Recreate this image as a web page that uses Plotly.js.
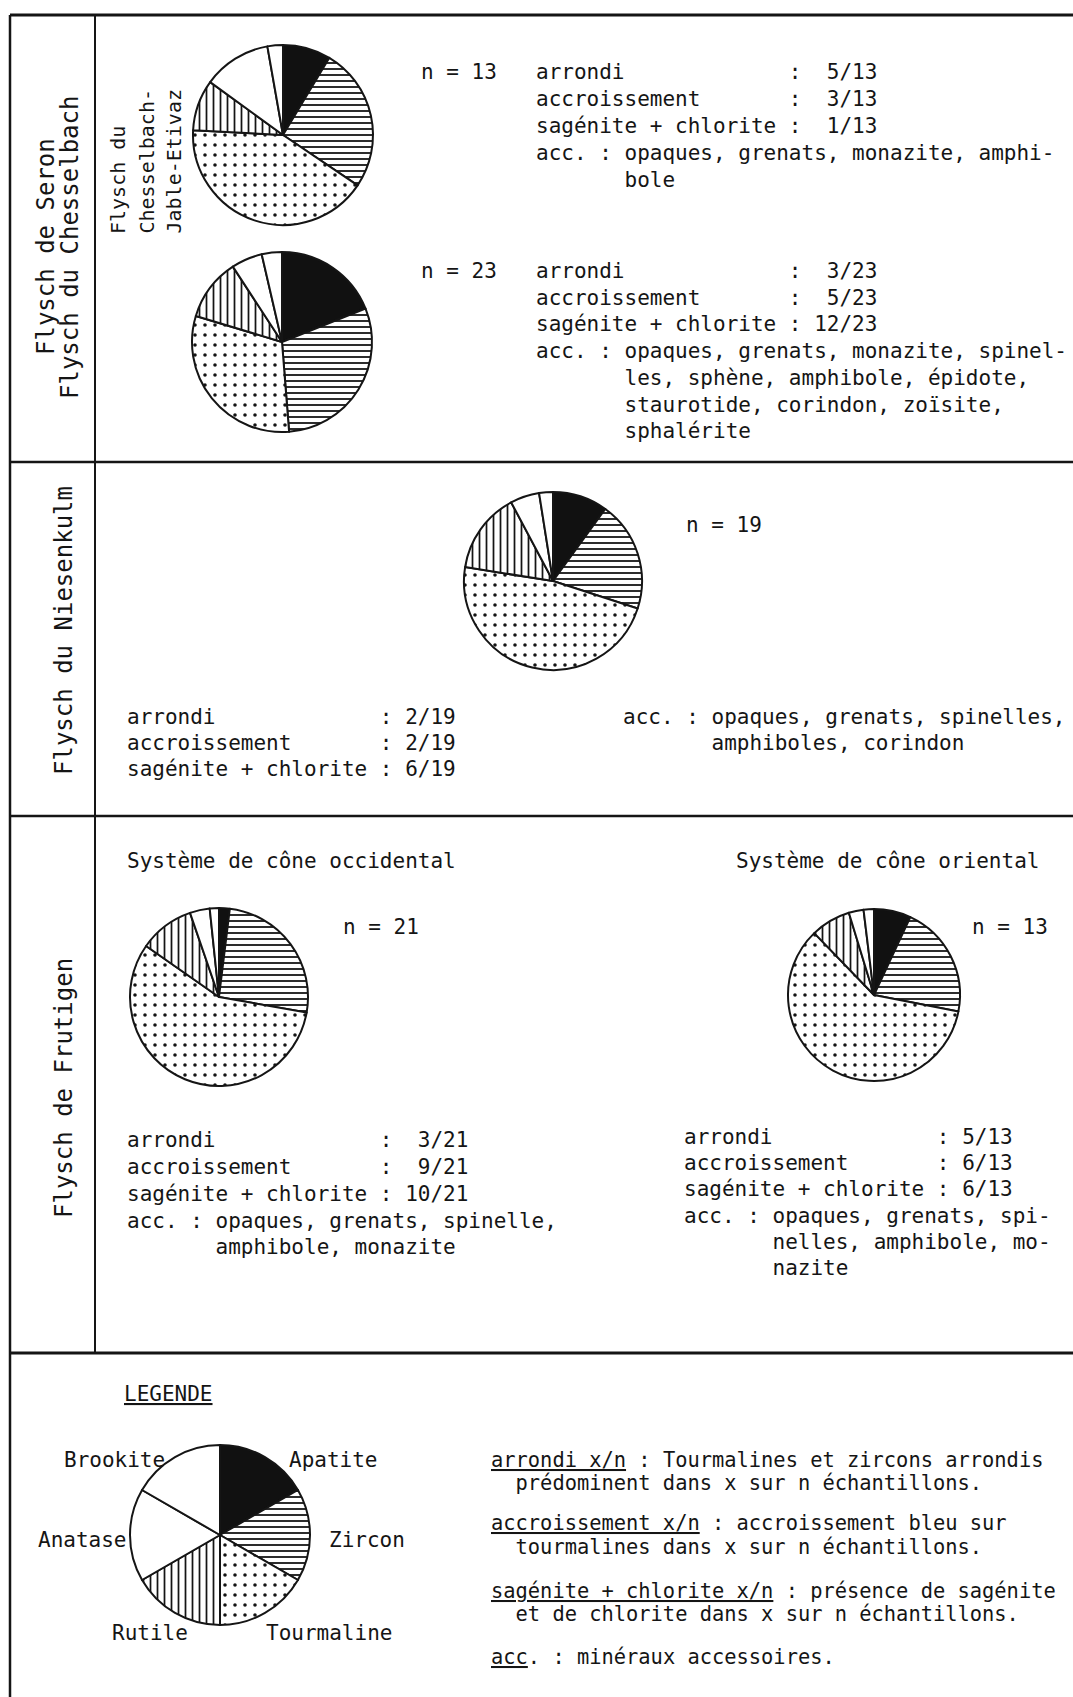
<!DOCTYPE html>
<html><head><meta charset="utf-8">
<script src="https://cdn.plot.ly/plotly-3.0.1.min.js"></script>
<style>html,body{margin:0;padding:0;background:#fff}#chart{width:1073px;height:1697px}</style>
</head><body><div id="chart"></div>
<script>
const W = 1073, H = 1697;

// ---- data ----
const minerals = ['Apatite', 'Zircon', 'Tourmaline', 'Rutile', 'Anatase', 'Brookite'];
// slice sizes (degrees of arc)
const pieJable      = [31, 93, 149, 33, 44, 10];   // Flysch du Chesselbach-Jable-Etivaz, n = 13
const pieChessel    = [68, 107, 111, 40, 20, 13];  // n = 23
const pieNiesen     = [36, 72, 171, 53, 19, 9];    // n = 19
const pieOccidental = [7, 93, 205, 36, 13, 6];     // n = 21
const pieOriental   = [25, 76, 215, 27, 10, 7];    // n = 13
const pieLegend     = [1, 1, 1, 1, 1, 1];

const statLabels = ['arrondi', 'accroissement', 'sagénite + chlorite'];
const jableN = 13, jableCounts = [5, 3, 1];
const chesselN = 23, chesselCounts = [3, 5, 12];
const niesenN = 19, niesenCounts = [2, 2, 6];
const occN = 21, occCounts = [3, 9, 10];
const oriN = 13, oriCounts = [5, 6, 6];

const jableAcc = ['acc. : opaques, grenats, monazite, amphi-', '       bole'];
const chesselAcc = ['acc. : opaques, grenats, monazite, spinel-', '       les, sphène, amphibole, épidote,', '       staurotide, corindon, zoïsite,', '       sphalérite'];
const niesenAcc = ['acc. : opaques, grenats, spinelles,', '       amphiboles, corindon'];
const occAcc = ['acc. : opaques, grenats, spinelle,', '       amphibole, monazite'];
const oriAcc = ['acc. : opaques, grenats, spi-', '       nelles, amphibole, mo-', '       nazite'];

const rowLabels = ['Flysch de Seron', 'Flysch du Chesselbach', 'Flysch du Niesenkulm', 'Flysch de Frutigen'];
const subLabel = ['Flysch du', 'Chesselbach-', 'Jable-Etivaz'];
const coneTitles = ['Système de cône occidental', 'Système de cône oriental'];
const legendTitle = 'LEGENDE';
const legendNotes = [
  '<u>arrondi x/n</u> : Tourmalines et zircons arrondis',
  '  prédominent dans x sur n échantillons.',
  '<u>accroissement x/n</u> : accroissement bleu sur',
  '  tourmalines dans x sur n échantillons.',
  '<u>sagénite + chlorite x/n</u> : présence de sagénite',
  '  et de chlorite dans x sur n échantillons.',
  '<u>acc</u>. : minéraux accessoires.'
];

// ---- styles ----
const INK = '#151515';
const fills = ['#111', 'white', 'white', 'white', 'white', 'white'];
const shapes = ['', '-', '.', '|', '', ''];
const psize = [6, 6, 10, 7, 6, 6];
const psol = [0.3, 0.3, 0.1, 0.25, 0.3, 0.3];

function pie(values, cx, cy, r) {
  return {
    type: 'pie', values: values, labels: minerals, sort: false,
    direction: 'clockwise', rotation: 0, textinfo: 'none', hoverinfo: 'skip',
    showlegend: false,
    domain: {x: [(cx - r) / W, (cx + r) / W], y: [1 - (cy + r) / H, 1 - (cy - r) / H]},
    marker: {colors: fills, line: {color: INK, width: 2},
      pattern: {shape: shapes, fgcolor: INK, bgcolor: 'white', size: psize, solidity: psol, fillmode: 'replace'}}
  };
}

const data = [
  pie(pieJable, 283, 135, 90),
  pie(pieChessel, 282, 342, 90),
  pie(pieNiesen, 553, 581, 89),
  pie(pieOccidental, 219, 997, 89),
  pie(pieOriental, 874, 995, 86),
  pie(pieLegend, 220, 1535, 90)
];

const annotations = [];
function ann(text, x, y, o) {
  annotations.push(Object.assign({
    xref: 'paper', yref: 'paper', x: x / W, y: 1 - y / H,
    text: text.replace(/ /g, '\u00a0'), showarrow: false,
    xanchor: 'left', yanchor: 'middle',
    font: {family: 'DejaVu Sans Mono', size: 21, color: INK}
  }, o || {}));
}
function statLines(counts, n, pad) {
  return statLabels.map((l, i) => l.padEnd(20, ' ') + ': ' + (counts[i] + '/' + n).padStart(pad, ' '));
}
function block(lines, x, y0, step, o) {
  lines.forEach((t, i) => ann(t, x, y0 + i * step, o));
}

// Row 1
ann('n = ' + jableN, 419, 72);
block(statLines(jableCounts, jableN, 5).concat(jableAcc), 534, 72, 27);
ann('n = ' + chesselN, 419, 271);
block(statLines(chesselCounts, chesselN, 5).concat(chesselAcc), 534, 271, 26.7);

// Row 2
ann('n = ' + niesenN, 684, 525);
block(statLines(niesenCounts, niesenN, 4), 125, 717, 26);
block(niesenAcc, 621, 717, 26);

// Row 3
ann(coneTitles[0], 125, 861);
ann(coneTitles[1], 734, 861);
ann('n = ' + occN, 341, 927);
ann('n = ' + oriN, 970, 927);
block(statLines(occCounts, occN, 5), 125, 1140, 27);
block(occAcc, 125, 1221, 26);
block(statLines(oriCounts, oriN, 4).concat(oriAcc), 682, 1137, 26.2);

// Legend
const noteFont = {font: {family: 'DejaVu Sans Mono', size: 20.4, color: INK}};
ann('<u>' + legendTitle + '</u>', 122, 1394);
block(legendNotes.slice(0, 2), 489, 1460, 23, noteFont);
block(legendNotes.slice(2, 4), 489, 1523, 24, noteFont);
block(legendNotes.slice(4, 6), 489, 1591, 23, noteFont);
ann(legendNotes[6], 489, 1657, noteFont);
const legPos = [[287, 1460], [327, 1540], [264, 1633], [110, 1633], [36, 1540], [62, 1460]];
minerals.forEach((m, i) => ann(m, legPos[i][0], legPos[i][1]));

// Left-column rotated labels
const rot = {textangle: -90, xanchor: 'center', yanchor: 'middle', font: {family: 'DejaVu Sans Mono', size: 24, color: INK}};
ann(rowLabels[0], 46, 247, rot);
ann(rowLabels[1], 70, 247, rot);
ann(rowLabels[2], 64, 631, rot);
ann(rowLabels[3], 64, 1088, rot);
const rotS = {textangle: -90, xanchor: 'center', yanchor: 'bottom', font: {family: 'DejaVu Sans Mono', size: 20, color: INK}};
ann(subLabel[0], 118, 236, rotS);
ann(subLabel[1], 146, 236, rotS);
ann(subLabel[2], 173, 236, rotS);

// Frame
function line(x0, y0, x1, y1, w) {
  return {type: 'line', xref: 'paper', yref: 'paper', x0: x0 / W, x1: x1 / W, y0: 1 - y0 / H, y1: 1 - y1 / H,
    line: {color: INK, width: w || 2.5}};
}
const shapesFrame = [
  line(10, 15, 1073, 15, 3),
  line(10, 15, 10, 1697),
  line(95, 15, 95, 1353, 2),
  line(10, 462, 1073, 462),
  line(10, 816, 1073, 816),
  line(10, 1353, 1073, 1353, 3)
];

const layout = {
  width: W, height: H, margin: {l: 0, r: 0, t: 0, b: 0},
  paper_bgcolor: 'white', plot_bgcolor: 'white',
  annotations: annotations, shapes: shapesFrame, showlegend: false
};
Plotly.newPlot('chart', data, layout, {displayModeBar: false, staticPlot: true});
</script></body></html>
